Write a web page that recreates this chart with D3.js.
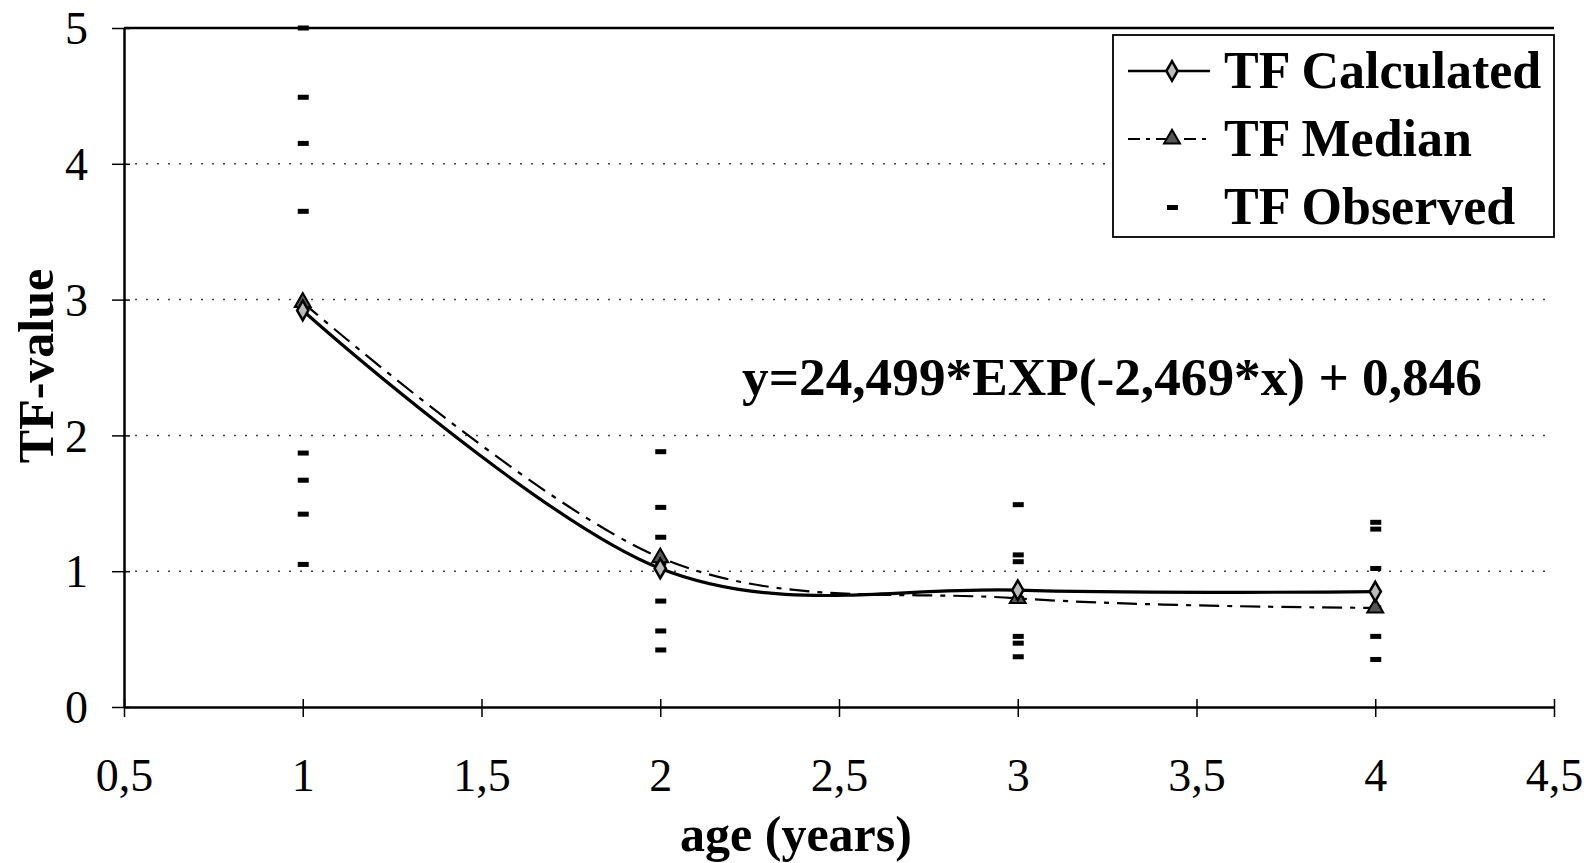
<!DOCTYPE html>
<html>
<head>
<meta charset="utf-8">
<script src="https://cdn.jsdelivr.net/npm/d3@7"></script>
<style>
body { margin: 0; background: #fff; }
text { font-family: "Liberation Serif", "Times New Roman", serif; fill: #000; }
</style>
</head>
<body>
<svg></svg>
<script>
// ages on the x axis
var ages = [1, 2, 3, 4];
// TF values
var calculated = [2.92, 1.02, 0.86, 0.85];
var median = [2.98, 1.10, 0.80, 0.73];
var observedAge = [1, 1, 1, 1, 1, 1, 1, 1,
                   2, 2, 2, 2, 2, 2, 2,
                   3, 3, 3, 3, 3, 3, 3,
                   4, 4, 4, 4, 4, 4];
var observedTF = [5.0, 4.49, 4.15, 3.65, 1.87, 1.67, 1.42, 1.05,
                  1.88, 1.47, 1.25, 1.06, 0.78, 0.56, 0.42,
                  1.49, 1.12, 1.07, 0.80, 0.52, 0.47, 0.37,
                  1.36, 1.31, 1.02, 0.73, 0.52, 0.35];
var xTicks = [0.5, 1, 1.5, 2, 2.5, 3, 3.5, 4, 4.5];
var yTicks = [0, 1, 2, 3, 4, 5];
var legendLabels = ["TF Calculated", "TF Median", "TF Observed"];
var equation = "y=24,499*EXP(-2,469*x) + 0,846";

var screen = {width: 1584, height: 863};
var margins = {top: 28, right: 30, bottom: 156, left: 124};
var width = screen.width - margins.left - margins.right;
var height = screen.height - margins.top - margins.bottom;

var svg = d3.select("svg")
    .attr("width", screen.width)
    .attr("height", screen.height);

var g = svg.append("g")
    .attr("transform", "translate(" + margins.left + "," + margins.top + ")");

var xScale = d3.scaleLinear().domain([0.5, 4.5]).range([0, width]);
var yScale = d3.scaleLinear().domain([0, 5]).range([height, 0]);

var fmt = function(d) { return String(d).replace(".", ","); };

// dotted gridlines
g.selectAll(".grid")
    .data(yTicks.filter(function(d) { return d > 0 && d < 5; }))
    .enter()
    .append("line")
    .attr("x1", 0).attr("x2", width)
    .attr("y1", function(d) { return yScale(d); })
    .attr("y2", function(d) { return yScale(d); })
    .attr("stroke", "#444")
    .attr("stroke-width", 1.5)
    .attr("stroke-dasharray", "2 9");

// top border
g.append("line")
    .attr("x1", 0).attr("x2", width)
    .attr("y1", 0).attr("y2", 0)
    .attr("stroke", "#000").attr("stroke-width", 2.5);

var xAxis = d3.axisBottom(xScale).tickValues(xTicks).tickFormat(fmt)
    .tickSizeInner(10).tickSizeOuter(0).tickPadding(60);
var yAxis = d3.axisLeft(yScale).tickValues(yTicks).tickFormat(fmt)
    .tickSizeInner(10).tickSizeOuter(0).tickPadding(26);

var gx = g.append("g")
    .attr("transform", "translate(0," + height + ")")
    .call(xAxis);
var gy = g.append("g").call(yAxis);

[gx, gy].forEach(function(ax) {
    ax.select(".domain").attr("stroke", "#000").attr("stroke-width", 2.5);
    ax.selectAll(".tick line").attr("stroke", "#000").attr("stroke-width", 1.5);
    ax.selectAll(".tick text")
        .attr("font-family", "Liberation Serif")
        .attr("font-size", 46)
        .attr("fill", "#000");
});
// ticks cross the axis
gx.selectAll(".tick line").attr("y1", -8).attr("y2", 10);
gy.selectAll(".tick line").attr("x1", -12).attr("x2", 6);
gx.selectAll(".tick text").attr("dy", "0.3em");
gy.selectAll(".tick text").attr("dy", "0.34em");

// observed dashes
g.selectAll(".obs")
    .data(observedTF)
    .enter()
    .append("rect")
    .attr("x", function(d, i) { return xScale(observedAge[i]) - 5; })
    .attr("y", function(d) { return yScale(d) - 2.5; })
    .attr("width", 11)
    .attr("height", 5)
    .attr("fill", "#000");

var line = d3.line()
    .x(function(d, i) { return xScale(ages[i]); })
    .y(function(d) { return yScale(d); })
    .curve(d3.curveCardinal.tension(0));

g.append("path")
    .attr("d", line(median))
    .attr("fill", "none")
    .attr("stroke", "#000")
    .attr("stroke-width", 2.2)
    .attr("stroke-dasharray", "20 8 5 8");

g.append("path")
    .attr("d", line(calculated))
    .attr("fill", "none")
    .attr("stroke", "#000")
    .attr("stroke-width", 3.2);

var diamond = d3.symbol().type(d3.symbolDiamond).size(110);
var triangle = d3.symbol().type(d3.symbolTriangle).size(110);

g.selectAll(".med")
    .data(median)
    .enter()
    .append("path")
    .attr("d", triangle)
    .attr("transform", function(d, i) { return "translate(" + xScale(ages[i]) + "," + yScale(d) + ")"; })
    .attr("fill", "#555")
    .attr("stroke", "#000")
    .attr("stroke-width", 2);

g.selectAll(".calc")
    .data(calculated)
    .enter()
    .append("path")
    .attr("d", diamond)
    .attr("transform", function(d, i) { return "translate(" + xScale(ages[i]) + "," + yScale(d) + ")"; })
    .attr("fill", "#bbb")
    .attr("stroke", "#000")
    .attr("stroke-width", 2.5);

// equation
svg.append("text")
    .attr("x", 742)
    .attr("y", 395)
    .attr("font-size", 53)
    .attr("font-weight", "bold")
    .attr("textLength", 740)
    .attr("lengthAdjust", "spacingAndGlyphs")
    .text(equation);

// axis titles
svg.append("text")
    .attr("x", 796)
    .attr("y", 851)
    .attr("text-anchor", "middle")
    .attr("font-size", 50)
    .attr("font-weight", "bold")
    .text("age (years)");

svg.append("text")
    .attr("transform", "translate(53,366) rotate(-90)")
    .attr("text-anchor", "middle")
    .attr("font-size", 50)
    .attr("font-weight", "bold")
    .text("TF-value");

// legend
var legend = svg.append("g");
legend.append("rect")
    .attr("x", 1113).attr("y", 35)
    .attr("width", 441).attr("height", 202)
    .attr("fill", "#fff")
    .attr("stroke", "#000").attr("stroke-width", 1.8);

var rowY = [88, 156, 224];
legend.selectAll(".lt")
    .data(legendLabels)
    .enter()
    .append("text")
    .attr("x", 1224)
    .attr("y", function(d, i) { return rowY[i]; })
    .attr("font-size", 52)
    .attr("font-weight", "bold")
    .text(function(d) { return d; });

legend.append("line")
    .attr("x1", 1128).attr("x2", 1210)
    .attr("y1", rowY[0] - 17).attr("y2", rowY[0] - 17)
    .attr("stroke", "#000").attr("stroke-width", 2.5);
legend.append("path")
    .attr("d", diamond)
    .attr("transform", "translate(1172," + (rowY[0] - 17) + ")")
    .attr("fill", "#bbb").attr("stroke", "#000").attr("stroke-width", 2.5);

legend.append("line")
    .attr("x1", 1128).attr("x2", 1210)
    .attr("y1", rowY[1] - 17).attr("y2", rowY[1] - 17)
    .attr("stroke", "#000").attr("stroke-width", 2)
    .attr("stroke-dasharray", "12 6 4 6");
legend.append("path")
    .attr("d", triangle)
    .attr("transform", "translate(1172," + (rowY[1] - 17) + ")")
    .attr("fill", "#555").attr("stroke", "#000").attr("stroke-width", 2);

legend.append("rect")
    .attr("x", 1167).attr("y", rowY[2] - 19)
    .attr("width", 11).attr("height", 5)
    .attr("fill", "#000");
</script>
</body>
</html>
